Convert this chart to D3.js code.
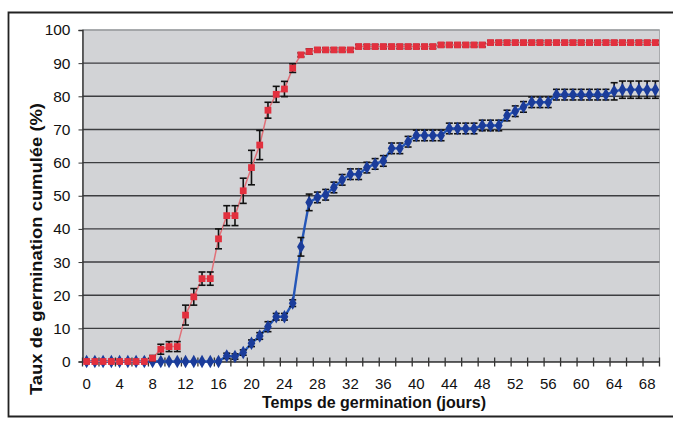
<!DOCTYPE html>
<html><head><meta charset="utf-8">
<script src="https://cdn.jsdelivr.net/npm/d3@7"></script>
<style>body{margin:0;background:#fff}svg{display:block}</style>
</head><body>
<svg id="c" width="673" height="422"></svg>
<script>
const days = d3.range(0, 70);
const redValues = [0,0,0,0,0,0,0,0,1,3.7,4.5,4.5,14,19.5,25,25,37,44,44,51.5,58.5,65.3,75.8,80.6,82.2,88.5,92.5,93.5,
  94,94,94,94,94,
  95,95,95,95,95,95,95,95,95,95,
  95.5,95.5,95.5,95.5,95.5,95.5,
  96.2,96.2,96.2,96.2,96.2,96.2,96.2,96.2,96.2,96.2,96.2,96.2,96.2,96.2,96.2,96.2,96.2,96.2,96.2,96.2,96.2];
const redErrors = [0,0,0,0,0,0,0,0,0.8,1.5,1.5,1.5,3,2.5,2,2,3,3,3,3.8,5.2,4.4,2.4,2.4,2.3,1.3,0.6,0.8,
  0.6,0.6,0.6,0.6,0.6,0.6,0.6,0.6,0.6,0.6,0.6,0.6,0.6,0.6,0.6,0.6,0.6,0.6,0.6,0.6,0.6,0.6,0.6,0.6,0.6,0.6,
  0.6,0.6,0.6,0.6,0.6,0.6,0.6,0.6,0.6,0.6,0.6,0.6,0.6,0.6,0.6,0.6];
const blueValues = [0,0,0,0,0,0,0,0,0,0,0,0,0,0,0,0,0,1.7,1.5,2.7,5.5,7.7,10.5,13.5,13.5,17.6,34.6,48,49.5,50.3,52.5,54.8,56.5,56.5,58.5,59.6,60.5,64.3,64.3,66.3,
  68.2,68.2,68.2,68.2,
  70.3,70.3,70.3,70.3,
  71.2,71.2,71.2,
  74.2,75.5,76.8,
  78.2,78.2,78.2,
  80.5,80.5,80.5,80.5,80.5,80.5,80.5,
  81.5,
  82,82,82,82,82];
const blueErrors = [0,0,0,0,0,0,0,0,0,0,0,0,0,0,0,0,0,0.8,0.8,0.8,1,1,1.5,1,1,1,2.8,2.5,
  1.6,1.6,1.6,1.6,1.6,1.6,1.6,1.6,1.6,1.6,1.6,1.6,1.6,1.6,1.6,1.6,1.6,1.6,1.6,1.6,1.6,1.6,1.6,1.6,1.6,1.6,1.6,1.6,1.6,1.6,1.6,1.6,1.6,1.6,1.6,1.6,
  2.6,2.6,2.6,2.6,2.6,2.6];
const yTicks = [0,10,20,30,40,50,60,70,80,90,100];
const xLabels = d3.range(0, 70, 4);
const xTitle = "Temps de germination (jours)";
const yTitle = "Taux de germination cumulée (%)";

const svg = d3.select("#c");
const L = 82.5, R = 659.5, T = 30, B = 361.5;
const x = d3.scaleBand().domain(days).range([L, R]).padding(0);
const y = d3.scaleLinear().domain([0, 100]).range([B, T]);
const cx = d => x(d) + x.bandwidth() / 2;
const font = "'Liberation Sans', Arial, sans-serif";

// outer frame
svg.append("path").attr("d", "M673,12.5 H8.5 V416.5 H673").attr("fill", "none")
  .attr("stroke", "#222").attr("stroke-width", 1.8);

// plot background
svg.append("rect").attr("x", L).attr("y", T).attr("width", R - L).attr("height", B - T)
  .attr("fill", "#d2d3d6").attr("stroke", "#a9abae").attr("stroke-width", 1);

// gridlines
svg.append("g").selectAll("line").data(yTicks.filter(v => v > 0)).join("line")
  .attr("x1", L).attr("x2", R).attr("y1", d => y(d)).attr("y2", d => y(d))
  .attr("stroke", d => d === 100 ? "#9a9c9f" : "#3c3d40").attr("stroke-width", 1.4);

// y axis
const yAxis = svg.append("g").attr("transform", `translate(${L},0)`)
  .call(d3.axisLeft(y).tickValues(yTicks).tickSize(4).tickPadding(8));
yAxis.select(".domain").attr("stroke", "#333").attr("stroke-width", 1.4);
yAxis.selectAll(".tick line").attr("stroke", "#333");
yAxis.selectAll("text").attr("font-family", font).attr("font-size", 15.5).attr("fill", "#111");

// x axis
const xAxis = svg.append("g").attr("transform", `translate(0,${B})`)
  .call(d3.axisBottom(x).tickValues(xLabels).tickSize(0).tickPadding(17));
xAxis.select(".domain").attr("stroke", "#333").attr("stroke-width", 1.6);
xAxis.selectAll("text").attr("font-family", font).attr("font-size", 15).attr("fill", "#111");
svg.append("g").selectAll("line").data(d3.range(0, 71, 2)).join("line")
  .attr("x1", d => d < 70 ? x(d) : R).attr("x2", d => d < 70 ? x(d) : R)
  .attr("y1", B - 4).attr("y2", B + 5).attr("stroke", "#333").attr("stroke-width", 1.3);

// titles
svg.append("text").attr("x", 374).attr("y", 408).attr("text-anchor", "middle")
  .attr("font-family", font).attr("font-weight", "bold").attr("font-size", 16)
  .attr("textLength", 224).attr("lengthAdjust", "spacingAndGlyphs").attr("fill", "#111").text(xTitle);
svg.append("text").attr("transform", "translate(42,249) rotate(-90)").attr("text-anchor", "middle")
  .attr("font-family", font).attr("font-weight", "bold").attr("font-size", 16)
  .attr("textLength", 292).attr("lengthAdjust", "spacingAndGlyphs").attr("fill", "#111").text(yTitle);

function drawSeries(vals, errs, lineColor, lineWidth, markerColor, shape, size) {
  const pts = days.map((d, i) => ({d, v: vals[i], e: errs[i]}));
  svg.append("path").datum(pts)
    .attr("d", d3.line().x(p => cx(p.d)).y(p => y(p.v)))
    .attr("fill", "none").attr("stroke", lineColor).attr("stroke-width", lineWidth);
  const eg = svg.append("g").attr("stroke", "#111").attr("stroke-width", 1.6);
  const ep = pts.filter(p => p.e > 0);
  eg.selectAll(".v").data(ep).join("line")
    .attr("x1", p => cx(p.d)).attr("x2", p => cx(p.d))
    .attr("y1", p => y(p.v - p.e)).attr("y2", p => y(p.v + p.e));
  eg.selectAll(".t").data(ep).join("line")
    .attr("x1", p => cx(p.d) - 3.5).attr("x2", p => cx(p.d) + 3.5)
    .attr("y1", p => y(p.v + p.e)).attr("y2", p => y(p.v + p.e));
  eg.selectAll(".b").data(ep).join("line")
    .attr("x1", p => cx(p.d) - 3.5).attr("x2", p => cx(p.d) + 3.5)
    .attr("y1", p => y(p.v - p.e)).attr("y2", p => y(p.v - p.e));
  svg.append("g").selectAll("path").data(pts).join("path")
    .attr("transform", p => `translate(${cx(p.d)},${y(p.v)})`)
    .attr("d", d3.symbol().type(shape).size(size))
    .attr("fill", markerColor);
}

drawSeries(blueValues, blueErrors, "#2456b8", 2.4, "#1b3c9a", d3.symbolDiamond, 52);
drawSeries(redValues, redErrors, "#e07078", 1.5, "#e2303e", d3.symbolSquare, 46);
</script>
</body></html>
